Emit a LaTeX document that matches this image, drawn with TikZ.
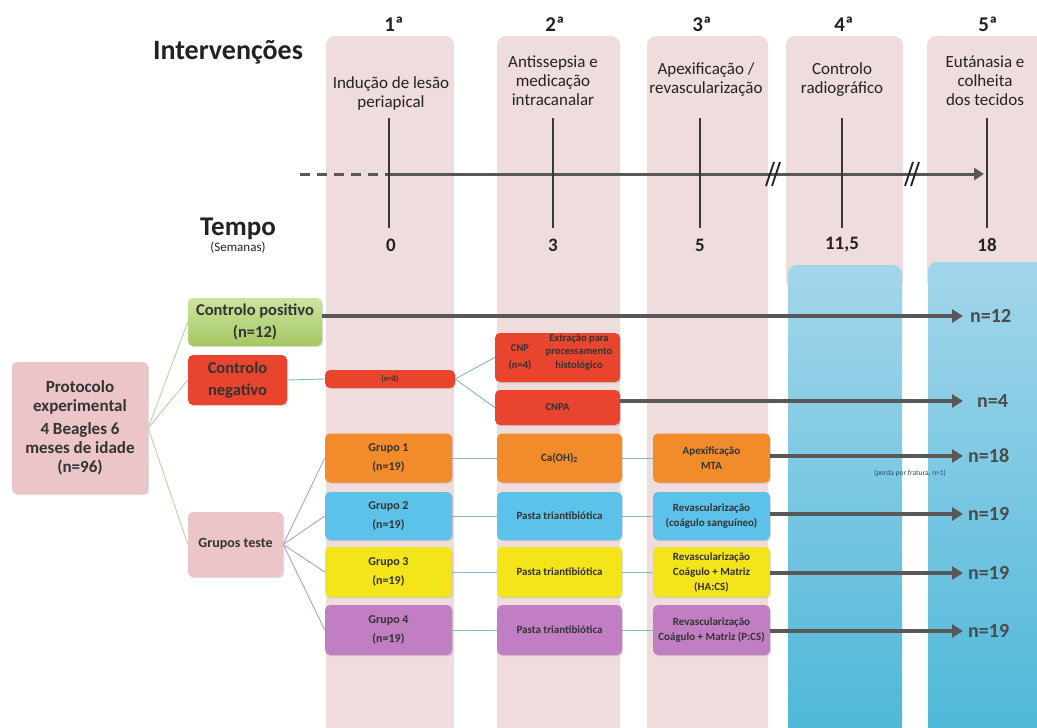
\documentclass[tikz,border=0pt]{standalone}
\usepackage{fontspec}
\setmainfont{Carlito}
\usetikzlibrary{arrows.meta,shadows}
\definecolor{colpink}{HTML}{EFDCDD}
\definecolor{bluetop}{HTML}{A3D6EB}
\definecolor{bluebot}{HTML}{4CB7D8}
\definecolor{protpink}{HTML}{ECC5C8}
\definecolor{greentop}{HTML}{CCE3A0}
\definecolor{greenbot}{HTML}{A4C862}
\definecolor{redbox}{HTML}{E8442E}
\definecolor{orangebox}{HTML}{F28C2B}
\definecolor{bluebox}{HTML}{5CC2EA}
\definecolor{yellowbox}{HTML}{F4E41A}
\definecolor{purplebox}{HTML}{C17EC2}
\definecolor{boxtxt}{HTML}{333333}
\definecolor{hdrtxt}{HTML}{222222}
\definecolor{arrgray}{HTML}{585858}
\definecolor{gline}{HTML}{B7D7A2}
\definecolor{lavline}{HTML}{A7A3D6}
\definecolor{tealline}{HTML}{85B6C2}
\definecolor{notetxt}{HTML}{2B4C6F}
\tikzset{
  colbg/.style={fill=colpink, rounded corners=9pt},
  bluecol/.style={top color=bluetop, bottom color=bluebot, rounded corners=9pt},
  bx/.style={rounded corners=5pt, align=center, inner sep=0pt, text=boxtxt,
    drop shadow={opacity=0.25, shadow xshift=1.2pt, shadow yshift=-1.2pt}},
  bigbx/.style={bx, font=\bfseries\fontsize{16.5}{22}\selectfont},
  grpbx/.style={bx, minimum width=127pt, font=\bfseries\fontsize{12}{19}\selectfont},
  midbx/.style={bx, minimum width=125pt, font=\bfseries\fontsize{11}{15}\selectfont},
  rgtbx/.style={bx, minimum width=117pt, font=\bfseries\fontsize{11}{15}\selectfont},
  hdr/.style={font=\bfseries\fontsize{21}{24}\selectfont, text=hdrtxt, anchor=base},
  coltxt/.style={font=\fontsize{17}{19}\selectfont, text=hdrtxt, align=center},
  wk/.style={font=\bfseries\fontsize{19}{22}\selectfont, text=hdrtxt},
  tickln/.style={line width=2pt, draw=hdrtxt!90},
  axisln/.style={line width=3pt, draw=arrgray},
  bigarrow/.style={line width=3.5pt, draw=arrgray, -{Triangle[length=11pt,width=13pt]}},
  nlab/.style={font=\bfseries\fontsize{20}{24}\selectfont, text=arrgray!85!black, anchor=west, inner sep=0pt},
  greenconn/.style={draw=gline, line width=0.9pt},
  lavconn/.style={draw=lavline, line width=0.9pt},
  tealconn/.style={draw=tealline, line width=0.9pt},
}
\begin{document}
\begin{tikzpicture}[x=1pt,y=-1pt]
\useasboundingbox[fill=white] (0,0) rectangle (1037,728);
% columns
\fill[colbg] (326,36) rectangle (454,745);
\fill[colbg] (497,36) rectangle (620,745);
\fill[colbg] (647,36) rectangle (768,745);
\fill[colbg] (786,36) rectangle (903,290);
\fill[colbg] (927,36) rectangle (1050,290);
\path[bluecol] (788,265) rectangle (902,745);
\path[bluecol] (928,262) rectangle (1050,745);

% titles
\node[font=\bfseries\fontsize{28}{32}\selectfont, text=hdrtxt, anchor=base] (interv) at (228,59) {Intervenções};
\node[hdr] (h1) at (394,31) {1ª};
\node[hdr] (h2) at (555,31) {2ª};
\node[hdr] (h3) at (702,31) {3ª};
\node[hdr] (h4) at (844,31) {4ª};
\node[hdr] (h5) at (988,31) {5ª};

\node[coltxt] (t1) at (391,93) {Indução de lesão\\periapical};
\node[coltxt] (t2) at (553,81) {Antissepsia e\\medicação\\intracanalar};
\node[coltxt] (t3) at (706,80) {Apexificação /\\revascularização};
\node[coltxt] (t4) at (842,80) {Controlo\\radiográfico};
\node[coltxt] (t5) at (985,81) {Eutánasia e\\colheita\\dos tecidos};

% timeline
\coordinate (ax0) at (300,174);
\coordinate (ax1) at (389,174);
\coordinate (ax2) at (984,174);
\draw[axisln, dash pattern=on 10pt off 7pt] (ax0) -- (ax1);
\draw[axisln, -{Triangle[length=10pt,width=12pt]}] (ax1) -- (ax2);
\foreach \x in {389,553,700,842,987} \draw[tickln] (\x,118) -- (\x,228);
\foreach \x in {773,912} {
  \draw[line width=1.8pt, draw=hdrtxt] (\x-7,186) -- (\x+1,162);
  \draw[line width=1.8pt, draw=hdrtxt] (\x-1,186) -- (\x+7,162);
}
\node[wk] (w0) at (391,245) {0};
\node[wk] (w3) at (553,245) {3};
\node[wk] (w5) at (700,245) {5};
\node[wk] (w11) at (842,245) {11,5};
\node[wk] (w18) at (987,245) {18};
\node[font=\bfseries\fontsize{27}{30}\selectfont, text=hdrtxt, anchor=base] (tempo) at (238,235) {Tempo};
\node[font=\fontsize{13}{15}\selectfont, text=hdrtxt, anchor=base] (sem) at (238,251) {(Semanas)};

% left tree
\node[bx, fill=protpink, minimum width=136pt, minimum height=132pt,
  font=\bfseries\fontsize{17}{19}\selectfont] (prot) at (80,428)
  {Protocolo\\experimental\\[4pt]4 Beagles 6\\meses de idade\\(n=96)};
\node[bigbx, top color=greentop, bottom color=greenbot, minimum width=134pt, minimum height=48pt] (cp) at (255,322) {Controlo positivo\\(n=12)};
\node[bigbx, fill=redbox, minimum width=99pt, minimum height=50pt] (cn) at (237.5,380) {Controlo\\negativo};
\node[bx, fill=protpink, minimum width=95pt, minimum height=65pt, font=\bfseries\fontsize{14}{17}\selectfont] (gt) at (235.5,544.5) {Grupos teste};

\draw[greenconn] (prot.east) -- (cp.west);
\draw[greenconn] (prot.east) -- (cn.west);
\draw[greenconn] (prot.east) -- (gt.west);

% negative control branch
\node[bx, fill=redbox, minimum width=130pt, minimum height=18pt, font=\bfseries\fontsize{8}{9}\selectfont] (n8) at (390,379) {(n=8)};
\node[bx, fill=redbox, minimum width=125pt, minimum height=49pt] (cnp) at (557.5,357.5) {};
\node[font=\bfseries\fontsize{10.5}{17}\selectfont, text=boxtxt, align=center, inner sep=0pt] (cnpa) at (520,357) {CNP\\(n=4)};
\node[font=\bfseries\fontsize{10.5}{13.5}\selectfont, text=boxtxt, align=center, inner sep=0pt] (cnpb) at (579,352) {Extração para\\processamento\\histológico};
\node[bx, fill=redbox, minimum width=125pt, minimum height=35pt, font=\bfseries\fontsize{10.5}{13}\selectfont] (cnpA) at (557.5,407.5) {CNPA};
\draw[tealconn] (cn.east) -- (n8.west);
\draw[tealconn] (n8.east) -- (cnp.west);
\draw[tealconn] (n8.east) -- (cnpA.west);

% group rows
\node[grpbx, fill=orangebox, minimum height=49pt] (g1) at (388.5,458) {Grupo 1\\(n=19)};
\node[grpbx, fill=bluebox, minimum height=48pt] (g2) at (388.5,516) {Grupo 2\\(n=19)};
\node[grpbx, fill=yellowbox, minimum height=50pt] (g3) at (388.5,572) {Grupo 3\\(n=19)};
\node[grpbx, fill=purplebox, minimum height=50pt] (g4) at (388.5,630) {Grupo 4\\(n=19)};

\node[midbx, fill=orangebox, minimum height=49pt] (c1) at (559.5,458) {Ca(OH)\textsubscript{2}};
\node[midbx, fill=bluebox, minimum height=48pt] (c2) at (559.5,516) {Pasta triantibiótica};
\node[midbx, fill=yellowbox, minimum height=50pt] (c3) at (559.5,572) {Pasta triantibiótica};
\node[midbx, fill=purplebox, minimum height=50pt] (c4) at (559.5,630) {Pasta triantibiótica};

\node[rgtbx, fill=orangebox, minimum height=49pt] (a1) at (711.5,458) {Apexificação\\MTA};
\node[rgtbx, fill=bluebox, minimum height=48pt] (a2) at (711.5,516) {Revascularização\\(coágulo sanguíneo)};
\node[rgtbx, fill=yellowbox, minimum height=50pt] (a3) at (711.5,572) {Revascularização\\Coágulo + Matriz\\(HA:CS)};
\node[rgtbx, fill=purplebox, minimum height=50pt] (a4) at (711.5,630) {Revascularização\\Coágulo + Matriz (P:CS)};

\foreach \i in {1,2,3,4} {
  \draw[lavconn] (gt.east) -- (g\i.west);
  \draw[tealconn] (g\i.east) -- (c\i.west);
  \draw[tealconn] (c\i.east) -- (a\i.west);
}

% outcome arrows and labels
\node[nlab] (l12) at (970,316) {n=12};
\node[nlab] (l4) at (977,401) {n=4};
\node[nlab] (l18) at (968,456) {n=18};
\node[nlab] (l19a) at (968,514) {n=19};
\node[nlab] (l19b) at (968,573) {n=19};
\node[nlab] (l19c) at (968,631) {n=19};
\coordinate (e12) at (963,316);
\coordinate (e4) at (963,401);
\coordinate (e18) at (963,456);
\coordinate (e19a) at (963,514);
\coordinate (e19b) at (963,573);
\coordinate (e19c) at (963,631);
\draw[bigarrow] (cp.east |- e12) -- (e12);
\draw[bigarrow] (cnpA.east |- e4) -- (e4);
\draw[bigarrow] (a1.east |- e18) -- (e18);
\draw[bigarrow] (a2.east |- e19a) -- (e19a);
\draw[bigarrow] (a3.east |- e19b) -- (e19b);
\draw[bigarrow] (a4.east |- e19c) -- (e19c);
\node[font=\fontsize{7.5}{9}\selectfont, text=notetxt] (perda) at (910,473) {(perda por fratura, n=1)};
\end{tikzpicture}
\end{document}
